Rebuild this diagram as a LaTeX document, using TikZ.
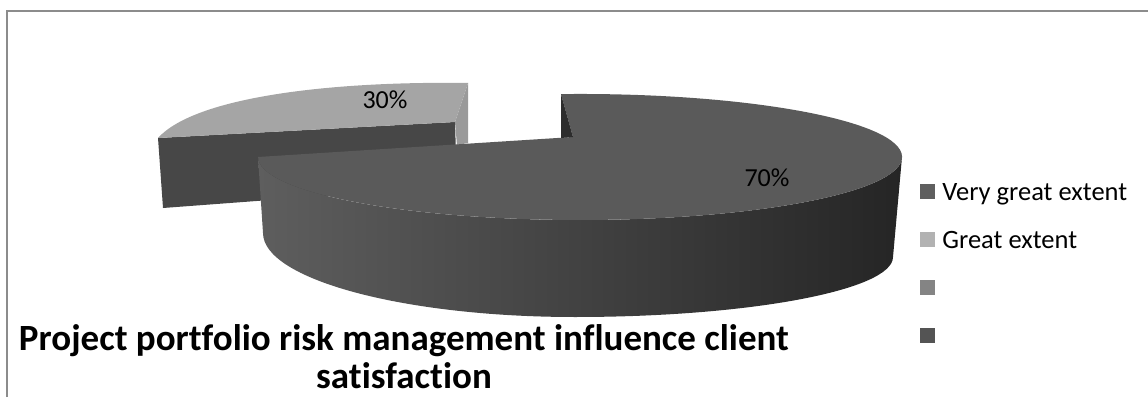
\documentclass[tikz,border=0pt]{standalone}
\usepackage{fontspec}
\setmainfont{Carlito}[Ligatures=NoCommon]
\usetikzlibrary{positioning}

\definecolor{framegray}{HTML}{8C8C8C}
\definecolor{bigtop}{HTML}{5A5A5A}
\definecolor{bigleft}{HTML}{5E5E5E}
\definecolor{bigright}{HTML}{252525}
\definecolor{bigcut}{HTML}{2D2D2D}
\definecolor{smalltop}{HTML}{A5A5A5}
\definecolor{smallfront}{HTML}{474747}
\definecolor{smallcut}{HTML}{9A9A9A}
\definecolor{legone}{HTML}{5F5F5F}
\definecolor{legtwo}{HTML}{B2B2B2}
\definecolor{legthree}{HTML}{848484}
\definecolor{legfour}{HTML}{545454}

\begin{document}
\begin{tikzpicture}
  [x=1pt, y=1pt, node distance=48pt,
   legbox/.style={minimum size=15pt, inner sep=0pt},
   legtext/.style={font=\fontsize{26.5}{26.5}\selectfont, inner sep=0pt, text height=17pt, text depth=0pt},
   pct/.style={font=\fontsize{26}{26}\selectfont, inner sep=0pt}]
	\useasboundingbox (0,0) rectangle (1148,397);
	\draw [framegray, line width=2.5pt] (7,0) |- (1148,386);

	% small slice, pulled out
	\fill [smallfront] (158,259) -- (455,275) -- (457,211) -- (163,189) -- cycle;
	\fill [smallcut] (455,275) -- (468,314) -- (468,254) -- (457,252) -- cycle;
	\fill [smalltop] (455,275) -- (158,259) .. controls (195,300) and (330,316) .. (468,314) -- cycle;

	% big slice
	\shade [left color=bigleft, right color=bigright] (258,240) -- (263,164)
		.. controls (263,118) and (403,80) .. (575,80)
		.. controls (750,80) and (893,107) .. (893,140) -- (902,240)
		arc [start angle=0, end angle=-180, x radius=322pt, y radius=63pt] -- cycle;
	\fill [bigtop] (573,260) -- (561,302.9)
		arc [start angle=93.4, end angle=-180, x radius=322pt, y radius=63pt] -- cycle;
	\fill [bigcut] (561,302.9) -- (573,260) -- (561,259) -- cycle;

	\node [name=p30, pct] at (385,297) {30\%};
	\node [name=p70, pct] at (767,219) {70\%};

	% legend
	\node [name=vg, legbox, fill=legone] at (927.5,205.5) {};
	\node [name=ge, legbox, fill=legtwo, below of=vg] {};
	\node [name=l3, legbox, fill=legthree, below of=ge] {};
	\node [name=l4, legbox, fill=legfour, below of=l3] {};
	\node [name=vgtext, legtext, right=7pt of vg] {Very great extent};
	\node [name=getext, legtext, right=7pt of ge] {Great extent};

	\node [name=title, font=\bfseries\fontsize{37}{38}\selectfont, align=center, inner sep=0pt, anchor=base]
		at (404,9) {Project portfolio risk management influence client\\satisfaction};
\end{tikzpicture}
\end{document}
